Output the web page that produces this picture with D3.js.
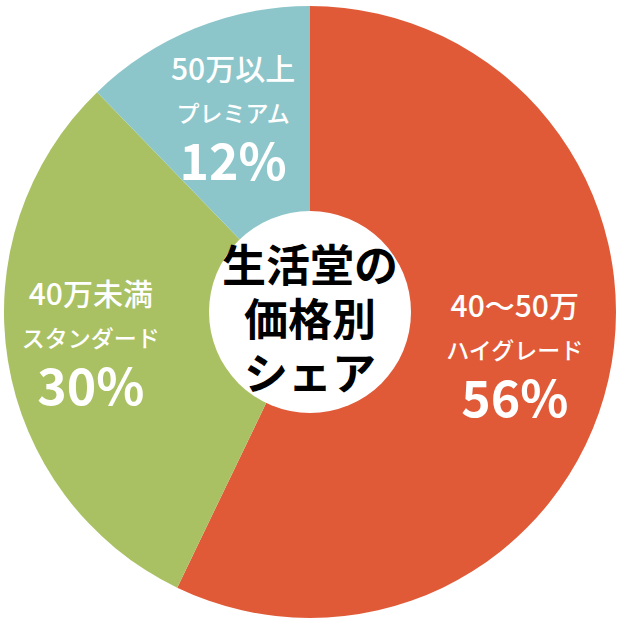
<!DOCTYPE html>
<html><head><meta charset="utf-8">
<script src="https://cdn.jsdelivr.net/npm/d3@7"></script>
<style>body{margin:0;background:#fff}</style>
</head><body>
<svg id="chart" width="620" height="634"></svg>
<script>
// share by price band
var bands = ["40〜50万", "40万未満", "50万以上"];
var subs = ["ハイグレード", "スタンダード", "プレミアム"];
var shares = [56, 30, 12];
var colors = ["#e05a38", "#a9c163", "#8dc6ca"];
var centerLines = ["生活堂の", "価格別", "シェア"];

var svg = d3.select("#chart");
var g = svg.append("g").attr("transform", "translate(310,312)");

var pie = d3.pie().sort(null).value(function (d) { return d; });
var arc = d3.arc().innerRadius(0).outerRadius(306);
var arcs = pie(shares);

g.selectAll("path").data(arcs).enter().append("path")
    .attr("d", arc)
    .attr("fill", function (d, i) { return colors[i]; });

g.append("circle").attr("r", 101).attr("fill", "#fff");

var font = "'Noto Sans CJK JP', sans-serif";
var labelR = [210, 222, 205];
var labelArc = d3.arc();

arcs.forEach(function (d, i) {
    var c = labelArc.innerRadius(labelR[i]).outerRadius(labelR[i]).centroid(d);
    var lg = g.append("g").attr("transform", "translate(" + c[0] + "," + c[1] + ")")
        .attr("fill", "#fff").attr("text-anchor", "middle").style("font-family", font)
        .attr("font-weight", 500);
    lg.append("text").attr("y", -42).attr("font-size", 30).text(bands[i]);
    lg.append("text").attr("y", 0).attr("font-size", 23).text(subs[i]);
    lg.append("text").attr("y", 58).attr("font-size", 50).attr("font-weight", "bold").text(shares[i] + "%");
});

g.selectAll(".center").data(centerLines).enter().append("text")
    .attr("text-anchor", "middle")
    .attr("y", function (d, i) { return -30 + i * 54; })
    .attr("font-size", 44).attr("font-weight", "bold")
    .style("font-family", font)
    .text(function (d) { return d; });
</script>
</body></html>
